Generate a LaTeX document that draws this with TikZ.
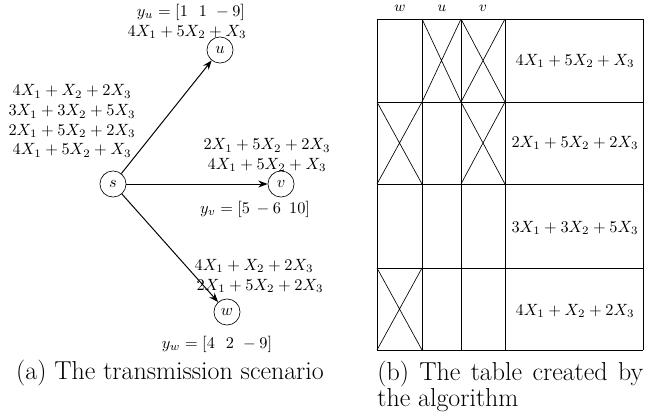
\documentclass[tikz,border=0pt]{standalone}
\usepackage{tikz}
\usetikzlibrary{arrows.meta,positioning}
\tikzset{
  vtx/.style={draw,circle,minimum size=16pt,inner sep=0pt},
  arr/.style={-Stealth,semithick},
  lbl/.style={inner sep=0pt,align=center},
  hdr/.style={inner sep=0pt,font=\small},
  capt/.style={inner sep=0pt,font=\fontsize{15.9}{13.3}\selectfont},
}
\begin{document}
\begin{tikzpicture}[x=0.613pt,y=-0.613pt]
  \useasboundingbox (0,0) rectangle (662,416);
  % (a) the transmission scenario
  \node[vtx] (s) at (113,184) {$s$};
  \node[vtx] (u) at (220,50)  {$u$};
  \node[vtx] (v) at (281,184) {$v$};
  \node[vtx] (w) at (227,312) {$w$};
  \foreach \t in {u,v,w}
    \draw[arr] (s)--(\t);
  \node[lbl] (ys) at (72,121) {$4X_1+X_2+2X_3$\\ $3X_1+3X_2+5X_3$\\
                               $2X_1+5X_2+2X_3$\\ $4X_1+5X_2+X_3$};
  \node[lbl] (yu) at (191,12)  {$y_u=[1\ \ 1\ -9]$};
  \node[lbl] (ru) at (187,32)  {$4X_1+5X_2+X_3$};
  \node[lbl] (rv) at (267,155) {$2X_1+5X_2+2X_3$\\ $4X_1+5X_2+X_3$};
  \node[lbl] (yv) at (255,209) {$y_v=[5\,-6\ \,10]$};
  \node[lbl] (rw1) at (254,266) {$4X_1+X_2+2X_3$};
  \node[lbl] (rw2) at (260,286) {$2X_1+5X_2+2X_3$};
  \node[lbl] (yw) at (217,344) {$y_w=[4\ \ 2\ -9]$};
  \node[capt,anchor=base] (capa) at (170,379) {(a) The transmission scenario};
  % (b) the table
  \foreach \x in {377,422,461,505,643}
    \draw (\x,19)--(\x,350);
  \foreach \y in {19,102,184,268,350}
    \draw (377,\y)--(643,\y);
  % crossed out cells
  \foreach \xa/\xb/\ya/\yb in {422/461/19/102,461/505/19/102,377/422/102/184,
                               461/505/102/184,377/422/268/350}
    \draw (\xa,\ya)--(\xb,\yb) (\xa,\yb)--(\xb,\ya);
  \node[hdr] (hw) at (400,8) {$w$};
  \node[hdr] (hu) at (442,8) {$u$};
  \node[hdr] (hv) at (483,8) {$v$};
  \node[lbl] (r1) at (575,61)  {$4X_1+5X_2+X_3$};
  \node[lbl] (r2) at (575,143) {$2X_1+5X_2+2X_3$};
  \node[lbl] (r3) at (575,228) {$3X_1+3X_2+5X_3$};
  \node[lbl] (r4) at (575,311) {$4X_1+X_2+2X_3$};
  \node[capt,anchor=base west,text width=163pt,align=justify] (capb) at (377,380)
    {(b) The table created by the algorithm};
\end{tikzpicture}
\end{document}
